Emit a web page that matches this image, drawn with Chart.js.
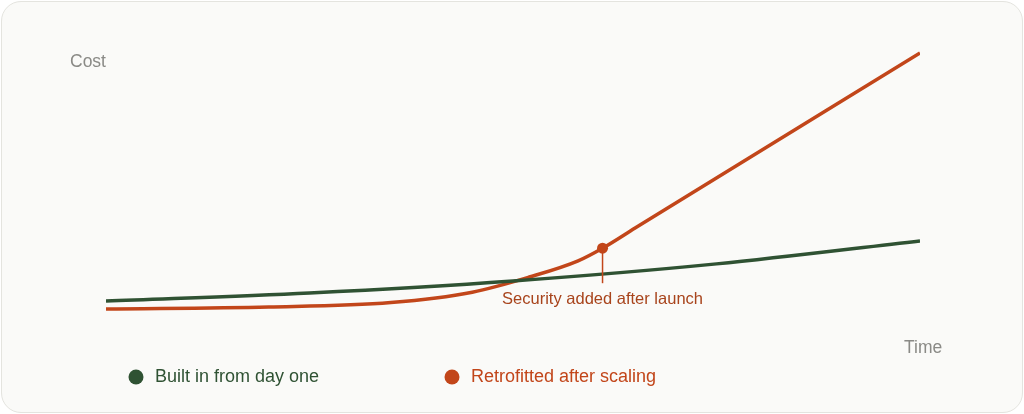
<!DOCTYPE html>
<html><head><meta charset="utf-8">
<script src="https://cdn.jsdelivr.net/npm/chart.js@4"></script>
<style>
html,body{margin:0;padding:0;background:#fff;}
#card{position:absolute;left:1px;top:1px;width:1020px;height:410px;border:1px solid #e4e4df;border-radius:20px;background:#fafaf8;overflow:hidden;}
canvas{position:absolute;left:0;top:0;}
</style></head><body>
<div id="card"><canvas id="c" width="1020" height="410"></canvas></div>
<script>
const seriesNames = ["Built in from day one", "Retrofitted after scaling"];
const greenX = [0, 25, 50, 75, 100];
const greenY = [7.1, 10, 14.3, 20.4, 28.6];
const orangeX = [0, 20, 35, 45, 52, 58, 61, 65, 100];
const orangeY = [4.3, 5, 6.6, 10.3, 15.7, 21.5, 26, 33.2, 95.7];
const markerPoint = [61, 26];
const annotationText = "Security added after launch";
const yLabel = "Cost", xLabel = "Time";
const GREEN = "#2f5233", ORANGE = "#c2461a";

const toPts = (xs, ys) => xs.map((x, i) => ({x, y: ys[i]}));

const overlay = {
  id: 'overlay',
  afterDatasetsDraw(chart) {
    const {ctx, scales:{x, y}} = chart;
    const px = x.getPixelForValue(markerPoint[0]), py = y.getPixelForValue(markerPoint[1]);
    ctx.save();
    ctx.strokeStyle = ORANGE; ctx.lineWidth = 1.5;
    ctx.beginPath(); ctx.moveTo(px, py); ctx.lineTo(px, py + 35); ctx.stroke();
    ctx.fillStyle = ORANGE; ctx.beginPath(); ctx.arc(px, py, 5.5, 0, Math.PI*2); ctx.fill();
    ctx.font = '16.5px "Liberation Sans", Arial, sans-serif';
    ctx.textAlign = 'center'; ctx.textBaseline = 'middle';
    ctx.fillStyle = '#a8441c';
    ctx.fillText(annotationText, px, py + 51);
    ctx.fillStyle = '#8a8a86'; ctx.font = '17.5px "Liberation Sans", Arial, sans-serif';
    ctx.textAlign = 'left';
    ctx.fillText(yLabel, 68, 60);
    ctx.fillText(xLabel, 902, 346);
    const leg = [[134, GREEN, seriesNames[0]], [450, ORANGE, seriesNames[1]]];
    ctx.font = '18px "Liberation Sans", Arial, sans-serif';
    leg.forEach(([lx, c, t]) => {
      ctx.fillStyle = c; ctx.beginPath(); ctx.arc(lx, 375, 7.5, 0, Math.PI*2); ctx.fill();
      ctx.fillText(t, lx + 19, 375);
    });
    ctx.restore();
  }
};

new Chart(document.getElementById('c'), {
  type: 'line',
  data: { datasets: [
    { label: seriesNames[0], data: toPts(greenX, greenY), borderColor: GREEN, borderWidth: 3.5, pointRadius: 0, cubicInterpolationMode: 'monotone' },
    { label: seriesNames[1], data: toPts(orangeX, orangeY), borderColor: ORANGE, borderWidth: 3.5, pointRadius: 0, cubicInterpolationMode: 'monotone' }
  ]},
  options: {
    responsive: false, animation: false,
    layout: { padding: { left: 104, right: 102, top: 39, bottom: 91 } },
    plugins: { legend: { display: false }, tooltip: { enabled: false } },
    scales: {
      x: { type: 'linear', min: 0, max: 100, display: false },
      y: { min: 0, max: 100, display: false }
    }
  },
  plugins: [overlay]
});
</script></body></html>
